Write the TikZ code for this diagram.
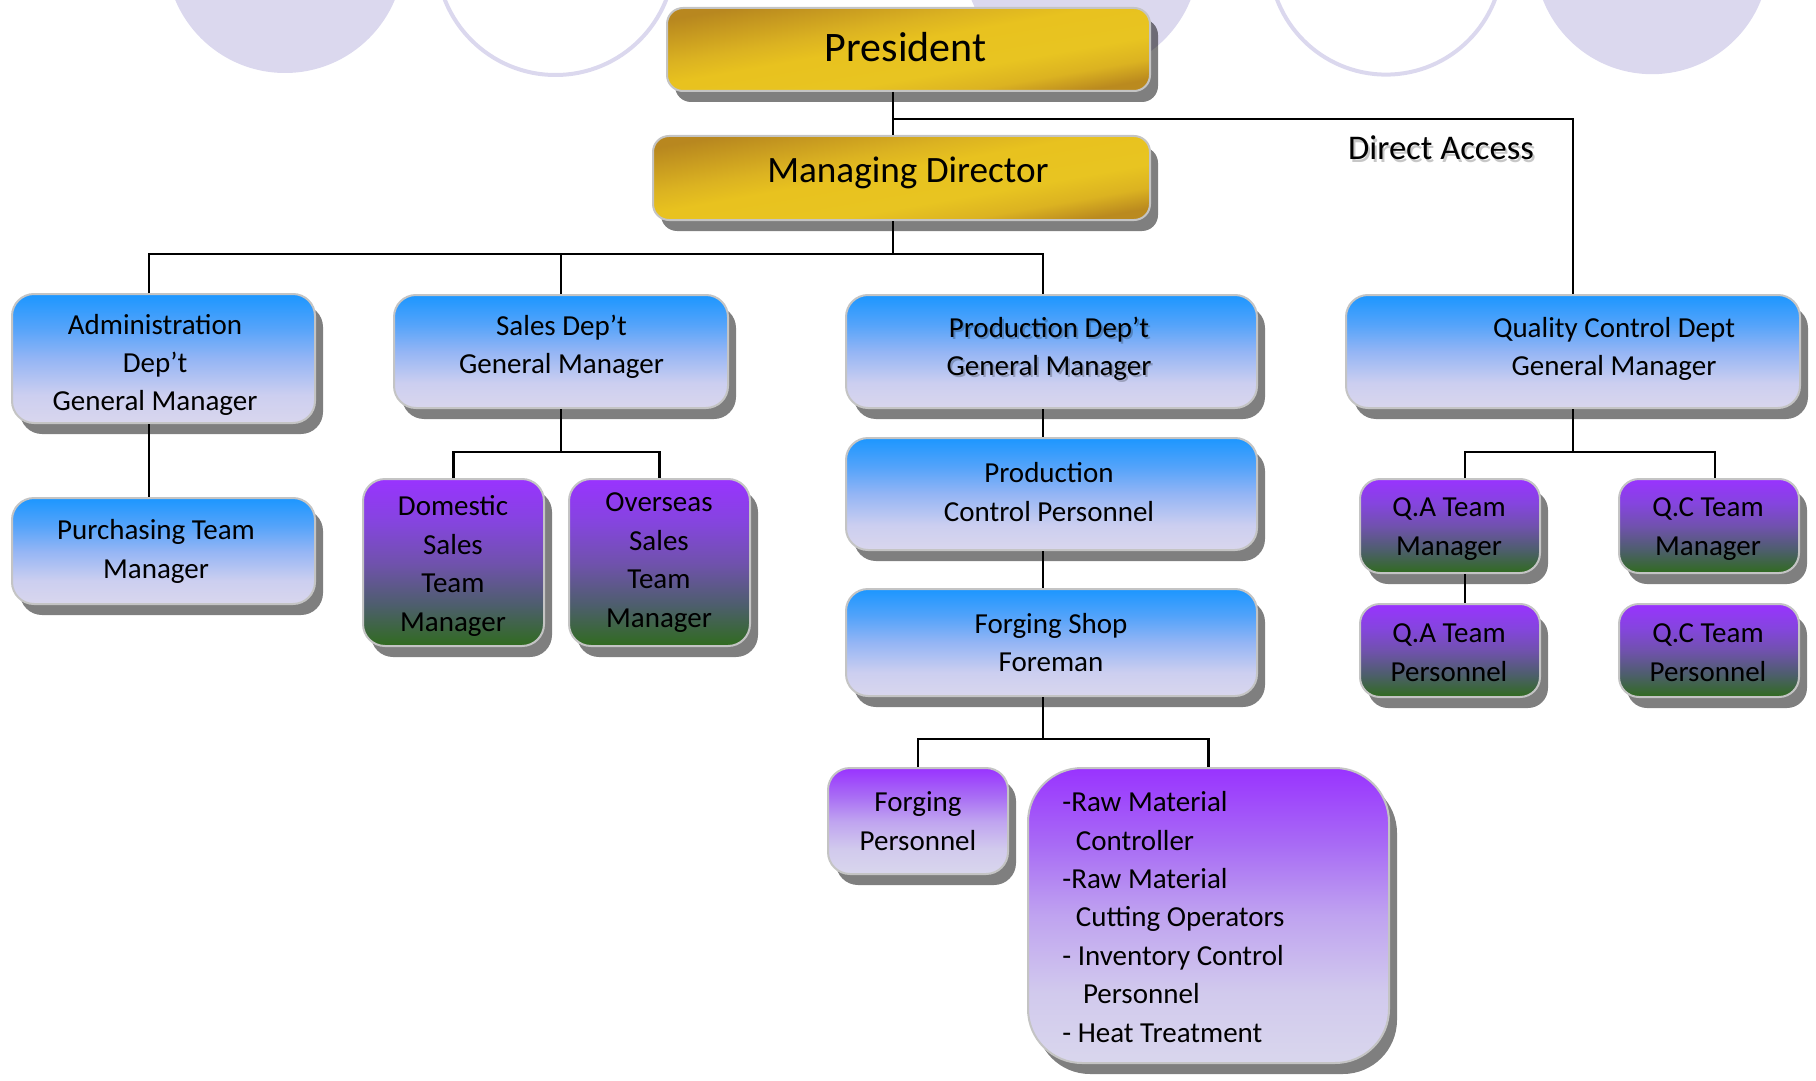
\documentclass[tikz,border=0pt]{standalone}
\usepackage{fontspec}
\setmainfont{Carlito}
\usetikzlibrary{shadows}
\pgfdeclarehorizontalshading{goldshade}{100bp}{rgb(0bp)=(0.72,0.53,0.12); rgb(25bp)=(0.72,0.53,0.12); rgb(40bp)=(0.86,0.70,0.13); rgb(47bp)=(0.91,0.76,0.12); rgb(60bp)=(0.91,0.77,0.13); rgb(68bp)=(0.86,0.70,0.13); rgb(75bp)=(0.73,0.54,0.12); rgb(100bp)=(0.73,0.54,0.12)}
\pgfdeclareverticalshading{blueshade}{100bp}{rgb(0bp)=(0.85,0.84,0.93); rgb(25bp)=(0.85,0.84,0.93); rgb(36bp)=(0.80,0.81,0.94); rgb(50bp)=(0.58,0.71,0.96); rgb(62bp)=(0.33,0.64,0.98); rgb(75bp)=(0.11,0.59,1); rgb(100bp)=(0.11,0.59,1)}
\pgfdeclareverticalshading{pgshade}{100bp}{rgb(0bp)=(0.19,0.42,0.12); rgb(25bp)=(0.19,0.42,0.12); rgb(37bp)=(0.30,0.37,0.42); rgb(50bp)=(0.44,0.32,0.68); rgb(62bp)=(0.52,0.27,0.87); rgb(75bp)=(0.6,0.2,1); rgb(100bp)=(0.6,0.2,1)}
\pgfdeclareverticalshading{plshade}{100bp}{rgb(0bp)=(0.85,0.84,0.93); rgb(25bp)=(0.85,0.84,0.93); rgb(37bp)=(0.82,0.79,0.93); rgb(50bp)=(0.75,0.64,0.94); rgb(62bp)=(0.66,0.42,0.96); rgb(75bp)=(0.6,0.2,1); rgb(100bp)=(0.6,0.2,1)}
\definecolor{lav}{RGB}{219,216,238}
\definecolor{bordergray}{RGB}{196,196,196}
\tikzset{
  base/.style={rectangle, rounded corners=11pt, draw=bordergray, line width=1pt, inner sep=0pt,
    drop shadow={shadow xshift=4pt, shadow yshift=-5.5pt, fill=black, opacity=0.5}},
  goldbox/.style={base, rounded corners=8pt, shading=goldshade, shading angle=-80},
  bluebox/.style={base, shading=blueshade},
  pgbox/.style={base, shading=pgshade},
  plbox/.style={base, shading=plshade},
  txt/.style={align=center, font=\fontsize{14.5}{19.2}\selectfont, inner sep=0pt},
  txtshadow/.style={txt, text=black, text opacity=0.22},
  conn/.style={line width=1.4pt, draw=black},
}
\begin{document}
\begin{tikzpicture}[x=0.5pt, y=-0.5pt]
\useasboundingbox (0,0) rectangle (1816,1081);
\clip (0,0) rectangle (1816,1081);
% background circles
\fill[lav] (285,-46) circle[radius=59.5pt];
\draw[lav, line width=2pt] (555.5,-44) circle[radius=59.5pt];
\fill[lav] (1081,-44) circle[radius=59pt];
\draw[lav, line width=2pt] (1386,-42) circle[radius=58.3pt];
\fill[lav] (1652,-43) circle[radius=58.6pt];

% boxes
\node[goldbox, minimum width=241.5pt, minimum height=41.5pt] (pres) at (908.5,49.5) {};
\node[goldbox, minimum width=248.5pt, minimum height=42pt] (md) at (901.5,178) {};
\node[bluebox, minimum width=151.5pt, minimum height=64.5pt] (adm) at (163.5,358.5) {};
\node[bluebox, minimum width=167pt, minimum height=56.5pt] (sal) at (561,351.5) {};
\node[bluebox, minimum width=205.5pt, minimum height=56.5pt] (prod) at (1051.5,351.5) {};
\node[bluebox, minimum width=227pt, minimum height=56.5pt] (qc) at (1573,351.5) {};
\node[bluebox, minimum width=151.5pt, minimum height=53pt] (pur) at (163.5,551) {};
\node[pgbox, minimum width=90.5pt, minimum height=83.5pt] (dom) at (453.5,562.5) {};
\node[pgbox, minimum width=90.5pt, minimum height=83.5pt] (ovs) at (659.5,562.5) {};
\node[bluebox, minimum width=205.5pt, minimum height=56pt] (pc) at (1051.5,494) {};
\node[bluebox, minimum width=205.5pt, minimum height=53.5pt] (fs) at (1051.5,642.5) {};
\node[pgbox, rounded corners=10pt, minimum width=90pt, minimum height=47pt] (qam) at (1450,526) {};
\node[pgbox, rounded corners=10pt, minimum width=90pt, minimum height=47pt] (qcm) at (1709,526) {};
\node[pgbox, rounded corners=10pt, minimum width=90pt, minimum height=46.5pt] (qap) at (1450,650.5) {};
\node[pgbox, rounded corners=10pt, minimum width=90pt, minimum height=46.5pt] (qcp) at (1709,650.5) {};
\node[plbox, minimum width=90pt, minimum height=53pt] (fp) at (918,821) {};
\node[plbox, rounded corners=27pt, minimum width=180.5pt, minimum height=147.5pt] (raw) at (1208.5,915.5) {};

% texts
\node[txt, font=\fontsize{21}{25}\selectfont] (pres-t) at (905.7,46.7) {President};
\node[txt, font=\fontsize{18.6}{22}\selectfont] (md-t) at (908,173) {Managing Director};
\node[txtshadow, font=\fontsize{17.3}{21}\selectfont] (da-s) at (1443,150.5) {Direct Access};
\node[txt, font=\fontsize{17.3}{21}\selectfont] (da-t) at (1441,148) {Direct Access};
\node[txt] (adm-t) at (155,365) {Administration\\Dep’t\\General Manager};
\node[txt] (sal-t) at (561.5,347) {Sales Dep’t\\General Manager};
\node[txtshadow] (prod-s) at (1051,351) {Production Dep’t\\General Manager};
\node[txt] (prod-t) at (1049,348.5) {Production Dep’t\\General Manager};
\node[txt] (qc-t) at (1614,349) {Quality Control Dept\\General Manager};
\node[txt] (pur-t) at (156,551.5) {Purchasing Team\\Manager};
\node[txt] (dom-t) at (453,566) {Domestic\\Sales\\Team\\Manager};
\node[txt] (ovs-t) at (659,562.5) {Overseas\\Sales\\Team\\Manager};
\node[txt] (pc-t) at (1049,492) {Production\\Control Personnel};
\node[txt] (fs-t) at (1051,642.5) {Forging Shop\\Foreman};
\node[txt] (qam-t) at (1449,529) {Q.A Team\\Manager};
\node[txt] (qcm-t) at (1708,529) {Q.C Team\\Manager};
\node[txt] (qap-t) at (1449,652.5) {Q.A Team\\Personnel};
\node[txt] (qcp-t) at (1708,652.5) {Q.C Team\\Personnel};
\node[txt] (fp-t) at (918,821) {Forging\\Personnel};
\node[txt, align=left, anchor=west] (raw-t) at (1062,917) {-Raw Material\\\hspace*{6.75pt}Controller\\-Raw Material\\\hspace*{6.75pt}Cutting Operators\\- Inventory Control\\\hspace*{10.3pt}Personnel\\- Heat Treatment};

% connectors
\coordinate (busA) at (893,119);
\coordinate (busB) at (893,254);
\coordinate (admx) at (149,254);
\coordinate (prodx) at (1043,254);
\coordinate (salbus) at (561,452);
\coordinate (fsbus) at (1043,739);
\coordinate (qcbus) at (1573,452);
\coordinate (qax) at (1465,452);
\coordinate (qcx) at (1715,452);
\draw[conn] (pres.south -| busA) -- (md.north -| busA);
\draw[conn] (busA) -| (qc.north);
\draw[conn] (md.south -| busB) -- (busB);
\draw[conn] (adm.north -| admx) -- (admx) -- (prodx) -- (prod.north -| prodx);
\draw[conn] (sal.north) -- (sal.north |- busB);
\draw[conn] (adm.south -| admx) -- (pur.north -| admx);
\draw[conn] (sal.south) -- (salbus);
\draw[conn] (dom.north) -- (dom.north |- salbus) -- (ovs.north |- salbus) -- (ovs.north);
\draw[conn] (prod.south -| prodx) -- (pc.north -| prodx);
\draw[conn] (pc.south -| prodx) -- (fs.north -| prodx);
\draw[conn] (fs.south -| prodx) -- (fsbus);
\draw[conn] (fp.north) -- (fp.north |- fsbus) -- (raw.north |- fsbus) -- (raw.north);
\draw[conn] (qc.south) -- (qcbus);
\draw[conn] (qam.north -| qax) -- (qax) -- (qcx) -- (qcm.north -| qcx);
\draw[conn] (qam.south -| qax) -- (qap.north -| qax);
\end{tikzpicture}
\end{document}
